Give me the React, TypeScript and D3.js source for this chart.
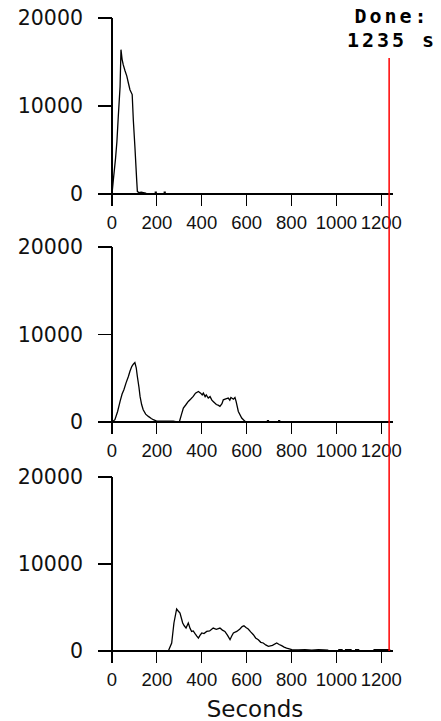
import React from "react";
import * as d3 from "d3";

// ---- data (seconds, counts); null = gap ----
const panel1Times = [0, 6, 16, 22, 28, 36, 40, 45, 50, 58, 66, 74, 80, 90, 95, 102, 110, 113, 120, 130, 140, 150, 155, 160, 190, 200, 210, 230, 240];
const panel1Values: (number | null)[] = [0, 1600, 4100, 6000, 8800, 12200, 16400, 15300, 14700, 14000, 13400, 12500, 11850, 11300, 8400, 5400, 1600, 300, 150, 200, 150, 100, 0, null, 200, 200, null, 200, 200];

const panel2Times = [0, 13, 25, 36, 45, 53, 63, 73, 80, 88, 95, 102, 108, 113, 120, 125, 132, 139, 150, 162, 175, 184, 199, 220, 250, 273, 290, 300, 310, 318, 330, 340, 350, 362, 372, 385, 395, 402, 407, 415, 420, 429, 437, 445, 451, 465, 475, 481, 490, 496, 507, 518, 525, 530, 541, 548, 553, 563, 578, 593, 600, 680, 690, 700, 730, 740, 750];
const panel2Values: (number | null)[] = [0, 260, 1200, 2350, 3200, 3680, 4500, 5200, 5800, 6330, 6600, 6790, 6200, 5200, 4000, 2920, 2000, 1400, 900, 640, 400, 260, 100, 100, 100, 100, 0, 0, 900, 1600, 2000, 2350, 2600, 2920, 3300, 3490, 3300, 3100, 3300, 2900, 3100, 2730, 2900, 2500, 2350, 2000, 1900, 1780, 2100, 2540, 2650, 2730, 2500, 2800, 2600, 2800, 2350, 1200, 450, 70, 0, null, 150, 150, null, 150, 150];

const panel3Times = [251, 266, 276, 288, 295, 303, 315, 322, 330, 340, 348, 355, 362, 370, 378, 385, 392, 400, 410, 422, 435, 451, 465, 481, 492, 503, 515, 526, 533, 541, 556, 570, 580, 588, 597, 607, 618, 630, 640, 652, 663, 674, 685, 697, 715, 734, 745, 756, 767, 778, 790, 801, 830, 860, 890, 920, 945, 964, 1000, 1008, 1028, 1033, 1038, 1068, 1075, 1083, 1102, 1130, 1165, 1200, 1240];
const panel3Values: (number | null)[] = [0, 920, 3220, 4830, 4600, 4370, 3220, 2900, 2640, 3220, 2600, 2250, 2300, 1990, 1700, 1490, 1800, 2070, 2000, 2250, 2300, 2640, 2500, 2640, 2400, 2250, 1800, 1300, 1700, 2070, 2250, 2530, 2800, 2910, 2700, 2530, 2200, 1870, 1500, 1300, 1000, 920, 700, 530, 650, 920, 750, 610, 450, 340, 250, 150, 120, 150, 100, 150, 120, 100, null, 150, 150, null, 150, 150, null, 150, 150, null, 150, 150, 150];

const panels = [
  { times: panel1Times, values: panel1Values },
  { times: panel2Times, values: panel2Values },
  { times: panel3Times, values: panel3Values },
];

const xTicks = [0, 200, 400, 600, 800, 1000, 1200];
const yTicks = [0, 10000, 20000];
const doneSeconds = 1235;
const doneLabel = ["Done:", "1235 s"];
const xLabel = "Seconds";

// ---- layout ----
const W = 441;
const H = 721;
const panelTops = [18, 247, 477];
const panelBottoms = [194, 422, 651];

export default function App() {
  const x = d3.scaleLinear().domain([0, 1250]).range([112, 392.5]);
  const x0 = x(0);
  const xEnd = x(1250);
  const redX = x(doneSeconds);

  return (
    <svg
      width={W}
      height={H}
      style={{ position: "absolute", left: 0, top: 0, background: "#fff" }}
    >
      <rect x={0} y={0} width={W} height={H} fill="#fff" />
      {panels.map((p, i) => {
        const y = d3.scaleLinear().domain([0, 20000]).range([panelBottoms[i], panelTops[i]]);
        const pts = p.times.map((t, k) => [t, p.values[k]] as [number, number | null]);
        const line = d3
          .line<[number, number | null]>()
          .defined((d) => d[1] !== null)
          .x((d) => x(d[0]))
          .y((d) => y(d[1] as number));
        const base = y(0);
        return (
          <g key={i}>
            {/* y axis */}
            <line x1={x0} x2={x0} y1={y(20000)} y2={base} stroke="#000" strokeWidth={1.2} shapeRendering="crispEdges" />
            {yTicks.map((v) => (
              <g key={v}>
                <line x1={x0 - 14} x2={x0} y1={y(v)} y2={y(v)} stroke="#000" strokeWidth={1.2} shapeRendering="crispEdges" />
                <text
                  x={83}
                  y={y(v) + 7}
                  textAnchor="end"
                  fontFamily="DejaVu Sans"
                  fontSize={20.5}
                  fill="#111"
                >
                  {v}
                </text>
              </g>
            ))}
            {/* x axis */}
            <line x1={x0} x2={xEnd} y1={base} y2={base} stroke="#000" strokeWidth={1.2} shapeRendering="crispEdges" />
            {xTicks.map((t) => (
              <g key={t}>
                <line x1={x(t)} x2={x(t)} y1={base} y2={base + 12} stroke="#000" strokeWidth={1.2} shapeRendering="crispEdges" />
                <text
                  x={x(t)}
                  y={base + 35}
                  textAnchor="middle"
                  fontFamily="Liberation Sans"
                  fontSize={18.5}
                  fill="#111"
                >
                  {t}
                </text>
              </g>
            ))}
            <path d={line(pts) || ""} fill="none" stroke="#000" strokeWidth={1.3} />
          </g>
        );
      })}
      {/* done marker */}
      <line x1={redX} x2={redX} y1={58} y2={panelBottoms[2]} stroke="#ff0000" strokeWidth={1.5} />
      <text
        x={392}
        y={23}
        textAnchor="middle"
        fontFamily="DejaVu Sans Mono"
        fontWeight="bold"
        fontSize={20}
        letterSpacing={3}
        fill="#000"
        style={{ whiteSpace: "pre" }}
      >
        {doneLabel[0]}
      </text>
      <text
        x={392}
        y={47}
        textAnchor="middle"
        fontFamily="DejaVu Sans Mono"
        fontWeight="bold"
        fontSize={20}
        letterSpacing={3}
        fill="#000"
        style={{ whiteSpace: "pre" }}
      >
        {doneLabel[1]}
      </text>
      <text x={255} y={717} textAnchor="middle" fontFamily="DejaVu Sans" fontSize={23} fill="#111">
        {xLabel}
      </text>
    </svg>
  );
}
